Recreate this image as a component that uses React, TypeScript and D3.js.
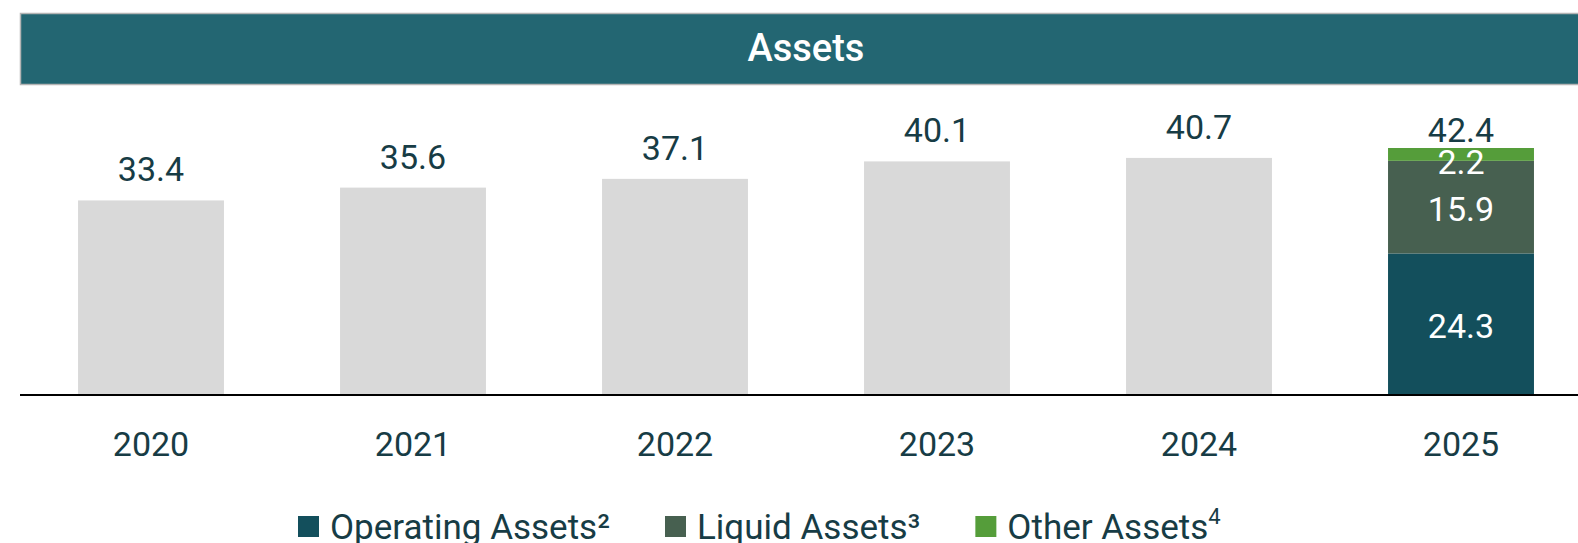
import React, { useEffect, useRef } from 'react';
import * as d3 from 'd3';

// chart values
const years = ['2020', '2021', '2022', '2023', '2024', '2025'];
const totals = [33.4, 35.6, 37.1, 40.1, 40.7, 42.4];
const operatingAssets = [0, 0, 0, 0, 0, 24.3];
const liquidAssets = [0, 0, 0, 0, 0, 15.9];
const otherAssets = [0, 0, 0, 0, 0, 2.2];
const seriesNames = ['Operating Assets²', 'Liquid Assets³', 'Other Assets'];
const seriesColors = ['#134f5c', '#476050', '#559d3a'];

const W = 1578;
const H = 543;
const TEXT = '#173c45';
const FONT = 'Roboto, "Open Sans", sans-serif';

const App = () => {
    const svgRef = useRef<SVGSVGElement>(null);

    useEffect(() => {
        document.body.style.margin = '0';
        const svg = d3.select(svgRef.current);
        svg.selectAll('*').remove();

        const axisY = 395;

        const x = d3
            .scaleBand()
            .domain(years)
            .range([20, 1592])
            .paddingInner(0.443)
            .paddingOuter(0.2215);

        const y = d3.scaleLinear().domain([0, 42.4]).range([axisY, 148]);

        // header band
        svg.append('rect')
            .attr('x', 20.5)
            .attr('y', 13.5)
            .attr('width', 1600)
            .attr('height', 71)
            .attr('fill', '#236672')
            .attr('stroke', '#b4b4b4')
            .attr('stroke-width', 1.5);

        svg.append('text')
            .attr('x', 806)
            .attr('y', 61)
            .attr('text-anchor', 'middle')
            .attr('fill', '#fff')
            .style('font-family', FONT)
            .style('font-size', '38px')
            .style('font-weight', 500)
            .text('Assets');

        // grey total bars (historical years)
        const hist = years.map((yr, i) => ({ yr, total: totals[i], stacked: operatingAssets[i] + liquidAssets[i] + otherAssets[i] > 0 }));

        svg.selectAll('.bar')
            .data(hist.filter(d => !d.stacked))
            .enter()
            .append('rect')
            .attr('class', 'bar')
            .attr('x', d => x(d.yr)!)
            .attr('y', d => y(d.total))
            .attr('width', x.bandwidth())
            .attr('height', d => axisY - y(d.total))
            .attr('fill', '#d9d9d9');

        // stacked bar(s)
        const table = years.map((yr, i) => ({ yr, op: operatingAssets[i], liq: liquidAssets[i], oth: otherAssets[i] }));
        const stack = d3.stack<any>().keys(['op', 'liq', 'oth'])(table);

        stack.forEach((layer, si) => {
            const segs = layer.filter(s => s[1] - s[0] > 0);
            const g = svg.append('g');
            g.selectAll('rect')
                .data(segs)
                .enter()
                .append('rect')
                .attr('x', s => x((s.data as any).yr)!)
                .attr('y', s => y(s[1]))
                .attr('width', x.bandwidth())
                .attr('height', s => y(s[0]) - y(s[1]))
                .attr('fill', seriesColors[si]);
            g.selectAll('text')
                .data(segs)
                .enter()
                .append('text')
                .attr('x', s => x((s.data as any).yr)! + x.bandwidth() / 2)
                .attr('y', s => Math.max((y(s[0]) + y(s[1])) / 2 + 14, y(s[1]) + 26))
                .attr('text-anchor', 'middle')
                .attr('fill', '#fff')
                .style('font-family', FONT)
                .style('font-size', '34px')
                .text(s => (s[1] - s[0]).toFixed(1));
        });

        // total labels
        svg.selectAll('.total')
            .data(hist)
            .enter()
            .append('text')
            .attr('class', 'total')
            .attr('x', d => x(d.yr)! + x.bandwidth() / 2)
            .attr('y', d => y(d.total) - (d.stacked ? 6 : 19))
            .attr('text-anchor', 'middle')
            .attr('fill', TEXT)
            .style('font-family', FONT)
            .style('font-size', '34px')
            .text(d => d.total.toFixed(1));

        // x axis
        const xAxis = svg.append('g')
            .attr('transform', `translate(0,${axisY})`)
            .call(d3.axisBottom(x).tickSize(0).tickPadding(0).tickSizeOuter(0));
        xAxis.select('.domain').remove();
        xAxis.selectAll('.tick text')
            .attr('y', 61)
            .attr('dy', 0)
            .attr('fill', TEXT)
            .style('font-family', FONT)
            .style('font-size', '34px');
        svg.append('line')
            .attr('x1', 20)
            .attr('x2', W)
            .attr('y1', axisY)
            .attr('y2', axisY)
            .attr('stroke', '#000')
            .attr('stroke-width', 2);

        // legend
        const legend = svg.append('g');
        let lx = 298;
        seriesNames.forEach((name, i) => {
            legend.append('rect')
                .attr('x', lx)
                .attr('y', 516)
                .attr('width', 21)
                .attr('height', 21)
                .attr('fill', seriesColors[i]);
            const t = legend.append('text')
                .attr('x', lx + 32)
                .attr('y', 539)
                .attr('fill', TEXT)
                .style('font-family', FONT)
                .style('font-size', '35px')
                .text(name);
            if (i === 2) {
                t.append('tspan')
                    .attr('dy', -15)
                    .style('font-size', '22px')
                    .text('4');
            }
            const len = (t.node() as SVGTextElement).getComputedTextLength();
            lx += 32 + len + 55;
        });
    }, []);

    return <svg ref={svgRef} width={W} height={H} style={{ display: 'block', background: '#fff' }} />;
};

export default App;
